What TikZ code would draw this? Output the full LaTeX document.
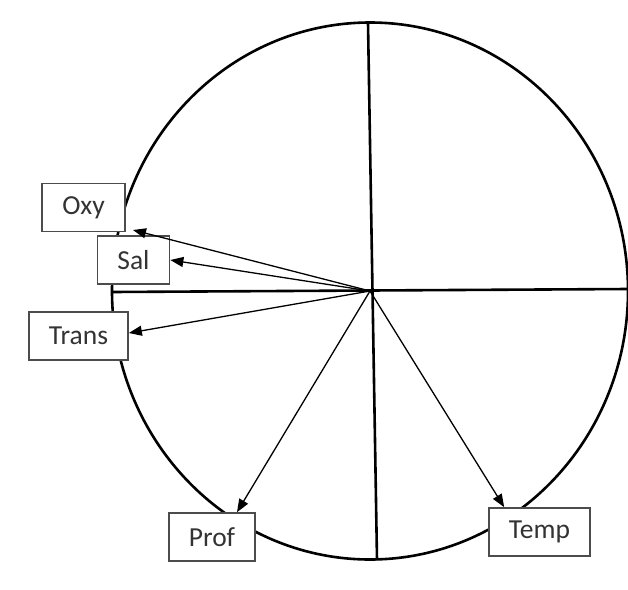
\documentclass[tikz,border=0pt]{standalone}
\usepackage{fontspec}
\setmainfont{Carlito}
\usetikzlibrary{arrows.meta}
\definecolor{boxgray}{rgb}{0.3,0.3,0.3}
\definecolor{textgray}{rgb}{0.2,0.2,0.2}

\tikzset{
    varbox/.style={draw=boxgray, line width=1.6pt, fill=white, text=textgray,
        inner xsep=20pt, minimum height=48pt, font=\fontsize{27.5}{32}\selectfont},
    pointer/.style={line width=1.3pt, -{Triangle[length=13pt,width=10pt]}}
}

\begin{document}
\begin{tikzpicture}[x=1pt, y=-1pt]
    \useasboundingbox (0,0) rectangle (628,589);
    \coordinate (c) at (370,291);
    \draw [line width=2.6pt] (c) ellipse (258 and 268.5);
    \draw [line width=2.6pt] (368,23)-- (377,560);
    \draw [line width=2.6pt] (112,292)-- (628,289);
    % boxes
    \node[varbox] (oxy) at (83.5,207.5) {Oxy};
    \node[varbox] (sal) at (133.5,260) {Sal};
    \node[varbox] (trans) at (78.5,336) {Trans};
    \node[varbox] (prof) at (212,537) {Prof};
    \node[varbox] (temp) at (539.5,532) {Temp};
    \coordinate (oxytip) at (133,230);
    % arrows
    \draw [pointer] (c)-- (oxytip);
    \draw [pointer] (c)-- (sal.east);
    \draw [pointer] (c)-- ([yshift=3pt]trans.east);
    \draw [pointer] (c)-- ([xshift=25pt]prof.north);
    \draw [pointer] (c)-- ([xshift=16pt]temp.north west);
\end{tikzpicture}
\end{document}
